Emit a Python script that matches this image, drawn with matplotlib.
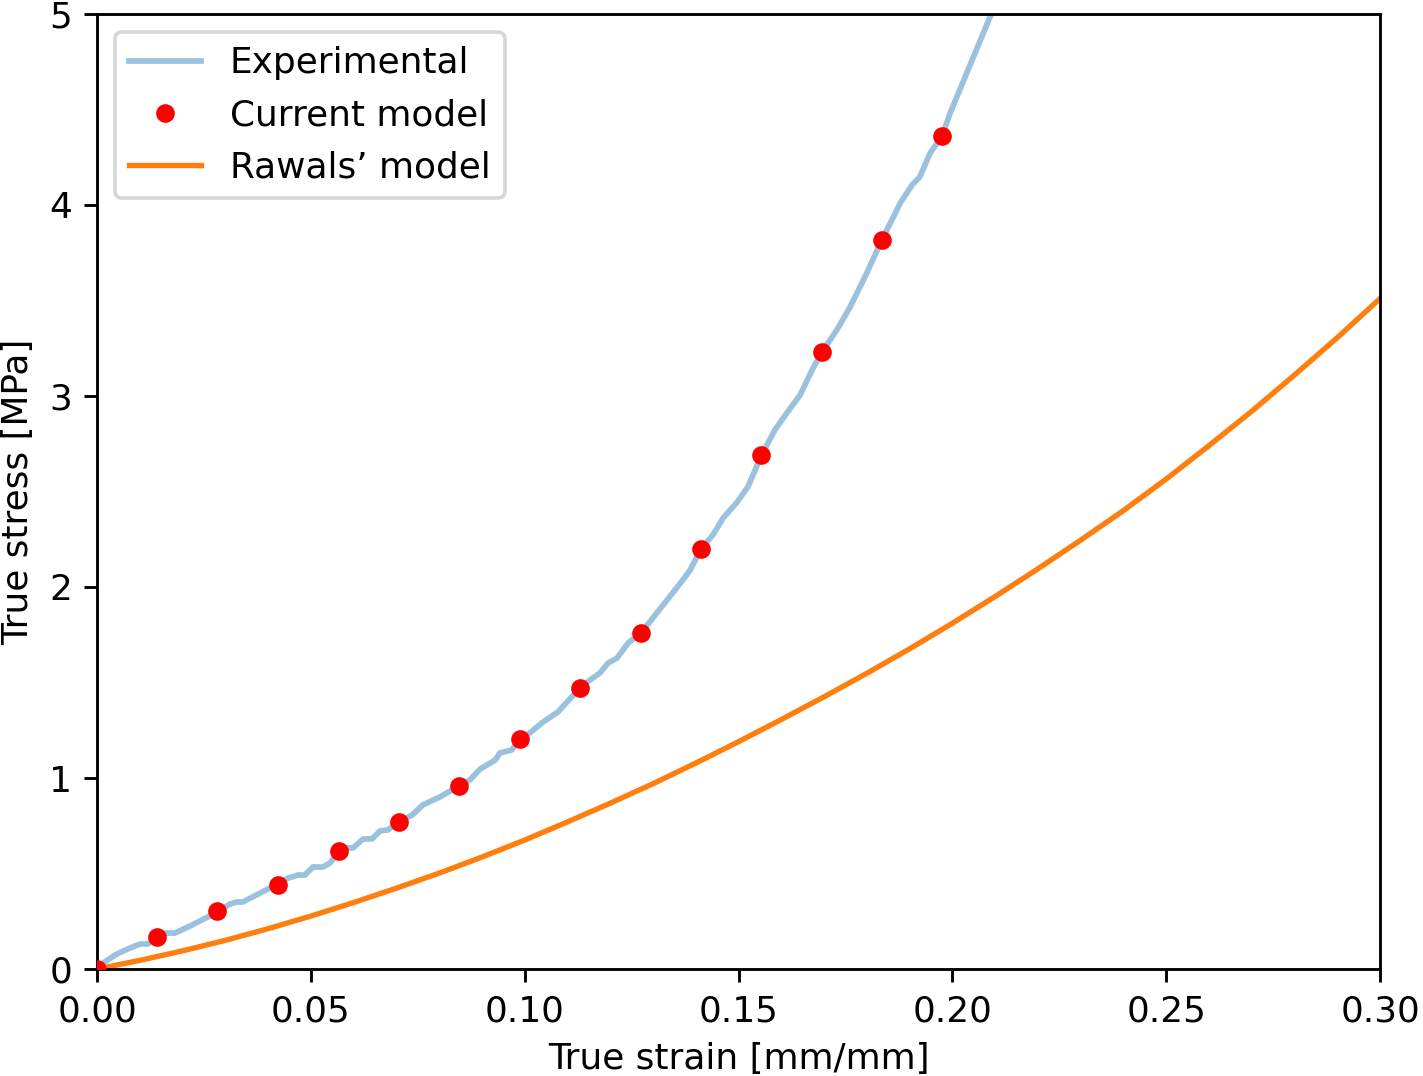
import matplotlib
matplotlib.use("Agg")
import matplotlib.pyplot as plt

# Experimental curve (true strain [mm/mm], true stress [MPa])
exp_strain = [0.0, 0.0003, 0.0019, 0.0042, 0.0072, 0.0101, 0.0119, 0.0140, 0.0159,
              0.0182, 0.0222, 0.0281, 0.0311, 0.0327, 0.0341, 0.0386, 0.0423, 0.0447,
              0.0470, 0.0486, 0.0505, 0.0528, 0.0545, 0.0564, 0.0585, 0.0599, 0.0622,
              0.0643, 0.0662, 0.0680, 0.0704, 0.0737, 0.0762, 0.0802, 0.0846, 0.0872,
              0.0896, 0.0931, 0.0942, 0.0970, 0.0989, 0.1012, 0.1043, 0.1078, 0.1099,
              0.1129, 0.1153, 0.1176, 0.1195, 0.1216, 0.1242, 0.1272, 0.1309, 0.1370,
              0.1387, 0.1412, 0.1440, 0.1464, 0.1497, 0.1522, 0.1553, 0.1585, 0.1613,
              0.1644, 0.1672, 0.1695, 0.1730, 0.1761, 0.1800, 0.1836, 0.1861, 0.1878,
              0.1906, 0.1924, 0.1948, 0.1976, 0.1995, 0.2088, 0.2100]
exp_stress = [0.0, 0.012, 0.038, 0.073, 0.105, 0.131, 0.131, 0.168, 0.188,
              0.188, 0.230, 0.298, 0.340, 0.351, 0.351, 0.403, 0.445, 0.476,
              0.492, 0.492, 0.534, 0.534, 0.555, 0.613, 0.634, 0.634, 0.681,
              0.681, 0.723, 0.728, 0.770, 0.806, 0.859, 0.901, 0.958, 0.990,
              1.047, 1.094, 1.131, 1.147, 1.204, 1.236, 1.293, 1.346, 1.398,
              1.471, 1.513, 1.550, 1.602, 1.628, 1.707, 1.759, 1.864, 2.037,
              2.089, 2.199, 2.272, 2.361, 2.445, 2.524, 2.686, 2.822, 2.911,
              3.005, 3.136, 3.230, 3.346, 3.466, 3.644, 3.822, 3.932, 4.010,
              4.105, 4.147, 4.272, 4.361, 4.482, 4.984, 5.047]

# Current model (points)
cur_strain = [0.0, 0.0140, 0.0281, 0.0423, 0.0566, 0.0706, 0.0847, 0.0989,
              0.1129, 0.1272, 0.1412, 0.1553, 0.1695, 0.1836, 0.1976]
cur_stress = [0.0, 0.168, 0.304, 0.440, 0.618, 0.770, 0.958, 1.204,
              1.471, 1.759, 2.199, 2.691, 3.230, 3.817, 4.361]

# Rawals' model
raw_strain = [0.00, 0.01, 0.02, 0.03, 0.04, 0.05, 0.06, 0.07, 0.08, 0.09, 0.10,
              0.11, 0.12, 0.13, 0.14, 0.15, 0.16, 0.17, 0.18, 0.19, 0.20,
              0.21, 0.22, 0.23, 0.24, 0.25, 0.26, 0.27, 0.28, 0.29, 0.30]
raw_stress = [0.000, 0.045, 0.095, 0.150, 0.211, 0.277, 0.348, 0.423, 0.502, 0.586, 0.675,
              0.770, 0.868, 0.970, 1.078, 1.190, 1.306, 1.425, 1.548, 1.676, 1.810,
              1.950, 2.095, 2.245, 2.400, 2.565, 2.740, 2.920, 3.110, 3.305, 3.510]

fig = plt.figure(figsize=(1423 / 258, 1076 / 258), dpi=258)
ax = fig.add_axes([97 / 1423, 1 - 969 / 1076, (1380 - 97) / 1423, (969 - 14) / 1076])

ax.plot(exp_strain, exp_stress, color="C0", alpha=0.45, linewidth=1.6, label="Experimental")
ax.plot(cur_strain, cur_stress, "o", color="red", markersize=4.2, label="Current model",
        zorder=3)
ax.plot(raw_strain, raw_stress, color="C1", linewidth=1.5, label="Rawals\u2019 model")

ax.set_xlim(0, 0.30)
ax.set_ylim(0, 5)
ax.set_xlabel("True strain [mm/mm]", labelpad=4)
ax.set_ylabel("True stress [MPa]", labelpad=4)
ax.legend(loc="upper left")

fig.savefig("out.png", dpi=258, facecolor="white")
